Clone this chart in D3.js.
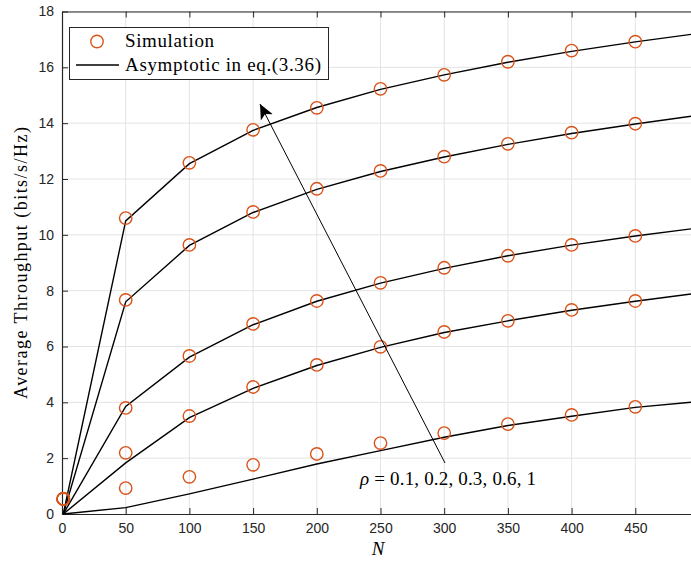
<!DOCTYPE html>
<html>
<head>
<meta charset="utf-8">
<script src="https://cdn.jsdelivr.net/npm/d3@7"></script>
<style>
  body { margin: 0; background: #fff; }
  svg { display: block; }
  .tick text { font-family: "Liberation Sans", Arial, sans-serif; font-size: 14px; fill: #262626; }
  .serif { font-family: "Liberation Serif", "DejaVu Serif", serif; fill: #000; }
</style>
</head>
<body>
<svg id="chart" width="691" height="563"></svg>
<script>
// N values
const simN = [1, 50, 100, 150, 200, 250, 300, 350, 400, 450];
const lineN = [1, 50, 100, 150, 200, 250, 300, 350, 400, 450, 500];

// simulation points, one list per rho
const sim01 = [0.54, 0.93, 1.33, 1.76, 2.15, 2.54, 2.90, 3.22, 3.55, 3.84];
const sim02 = [0.54, 2.19, 3.51, 4.55, 5.34, 5.99, 6.52, 6.92, 7.31, 7.63];
const sim03 = [0.54, 3.80, 5.66, 6.81, 7.63, 8.28, 8.82, 9.25, 9.64, 9.96];
const sim06 = [0.54, 7.67, 9.64, 10.82, 11.65, 12.29, 12.80, 13.26, 13.66, 13.98];
const sim10 = [0.54, 10.60, 12.58, 13.76, 14.55, 15.23, 15.73, 16.20, 16.60, 16.92];

// asymptotic curves
const asy01 = [0, 0.23, 0.72, 1.25, 1.79, 2.27, 2.75, 3.17, 3.50, 3.82, 4.03];
const asy02 = [0, 1.83, 3.45, 4.50, 5.32, 5.97, 6.50, 6.92, 7.30, 7.62, 7.92];
const asy03 = [0, 3.85, 5.62, 6.78, 7.62, 8.27, 8.80, 9.25, 9.63, 9.96, 10.25];
const asy06 = [0, 7.60, 9.62, 10.80, 11.63, 12.27, 12.79, 13.24, 13.63, 13.97, 14.29];
const asy10 = [0, 10.50, 12.55, 13.74, 14.56, 15.21, 15.73, 16.18, 16.57, 16.91, 17.22];

const xTicks = [0, 50, 100, 150, 200, 250, 300, 350, 400, 450];
const yTicks = [0, 2, 4, 6, 8, 10, 12, 14, 16, 18];

const simSeries = [sim01, sim02, sim03, sim06, sim10];
const asySeries = [asy01, asy02, asy03, asy06, asy10];

const axisColor = "#262626";
const orange = "#D95319";

const svg = d3.select("#chart");
const plotLeft = 62, plotTop = 11.5, plotBottom = 514;
const x = d3.scaleLinear().domain([0, 500]).range([plotLeft, plotLeft + 637]);
const y = d3.scaleLinear().domain([0, 18]).range([plotBottom, plotTop]);

// grid
let grid = svg.append("g");
grid.selectAll("line.gx").data(xTicks.slice(1)).enter().append("line")
  .attr("x1", d => x(d)).attr("x2", d => x(d))
  .attr("y1", plotTop).attr("y2", plotBottom)
  .attr("stroke", "#e3e3e3").attr("stroke-width", 1);
grid.selectAll("line.gy").data(yTicks.slice(1)).enter().append("line")
  .attr("x1", plotLeft).attr("x2", 691)
  .attr("y1", d => y(d)).attr("y2", d => y(d))
  .attr("stroke", "#e3e3e3").attr("stroke-width", 1);

// axes (MATLAB style: inward ticks)
let xAxis = d3.axisBottom(x).tickValues(xTicks).tickSizeInner(-6).tickSizeOuter(0).tickPadding(9);
let xg = svg.append("g").attr("transform", "translate(0," + plotBottom + ")").call(xAxis);
let yAxis = d3.axisLeft(y).tickValues(yTicks).tickSizeInner(-6).tickSizeOuter(0).tickPadding(8);
let yg = svg.append("g").attr("transform", "translate(" + plotLeft + ",0)").call(yAxis);
[xg, yg].forEach(g => {
  g.select(".domain").attr("stroke", axisColor).attr("stroke-width", 1.2);
  g.selectAll(".tick line").attr("stroke", axisColor);
});

// top border with ticks
let topAxis = d3.axisTop(x).tickValues(xTicks).tickSizeInner(-6).tickSizeOuter(0).tickFormat("");
let tg = svg.append("g").attr("transform", "translate(0," + plotTop + ")").call(topAxis);
tg.select(".domain").attr("stroke", axisColor).attr("stroke-width", 1.2);
tg.selectAll(".tick line").attr("stroke", axisColor);

// curves
let line = d3.line().x((d, i) => x(lineN[i])).y(d => y(d));
svg.append("g").selectAll("path").data(asySeries).enter().append("path")
  .attr("d", d => line(d))
  .attr("fill", "none").attr("stroke", "#000").attr("stroke-width", 1.4);

// simulation markers
let simG = svg.append("g");
simSeries.forEach(s => {
  simG.selectAll(null).data(s).enter().append("circle")
    .attr("cx", (d, i) => x(simN[i])).attr("cy", d => y(d))
    .attr("r", 6.2)
    .attr("fill", "none").attr("stroke", orange).attr("stroke-width", 1.4);
});

// annotation arrow
svg.append("defs").append("marker")
  .attr("id", "arrow").attr("viewBox", "0 0 10 10")
  .attr("refX", 10).attr("refY", 5)
  .attr("markerWidth", 15).attr("markerHeight", 15)
  .attr("markerUnits", "userSpaceOnUse")
  .attr("orient", "auto")
  .append("path").attr("d", "M0,0.5 L10,5 L0,9.5 L2.5,5 Z").attr("fill", "#000");

svg.append("line")
  .attr("x1", 445).attr("y1", 463)
  .attr("x2", 260).attr("y2", 104)
  .attr("stroke", "#000").attr("stroke-width", 1)
  .attr("marker-end", "url(#arrow)");

let ann = svg.append("text").attr("class", "serif")
  .attr("x", 360).attr("y", 485).style("font-size", "19px")
  .attr("textLength", 176).attr("lengthAdjust", "spacing");
ann.append("tspan").style("font-style", "italic").text("ρ");
ann.append("tspan").text(" = 0.1, 0.2, 0.3, 0.6, 1");

// legend
let lg = svg.append("g");
lg.append("rect").attr("x", 69.5).attr("y", 27.5).attr("width", 259).attr("height", 52)
  .attr("fill", "#fff").attr("stroke", axisColor).attr("stroke-width", 1);
lg.append("circle").attr("cx", 97).attr("cy", 41.5).attr("r", 6.2)
  .attr("fill", "none").attr("stroke", orange).attr("stroke-width", 1.4);
lg.append("line").attr("x1", 76).attr("x2", 119).attr("y1", 65).attr("y2", 65)
  .attr("stroke", "#000").attr("stroke-width", 1.4);
lg.append("text").attr("class", "serif").attr("x", 125).attr("y", 47)
  .style("font-size", "19px").attr("textLength", 89).attr("lengthAdjust", "spacing")
  .text("Simulation");
lg.append("text").attr("class", "serif").attr("x", 125).attr("y", 70.5)
  .style("font-size", "19px").attr("textLength", 196).attr("lengthAdjust", "spacing")
  .text("Asymptotic in eq.(3.36)");

// axis titles
svg.append("text").attr("class", "serif")
  .attr("transform", "translate(27," + 263 + ") rotate(-90)")
  .attr("text-anchor", "middle").style("font-size", "18px")
  .attr("textLength", 272).attr("lengthAdjust", "spacing")
  .text("Average Throughput (bits/s/Hz)");
svg.append("text").attr("class", "serif")
  .attr("x", 378).attr("y", 555).attr("text-anchor", "middle")
  .style("font-size", "19px").style("font-style", "italic").text("N");
</script>
</body>
</html>
